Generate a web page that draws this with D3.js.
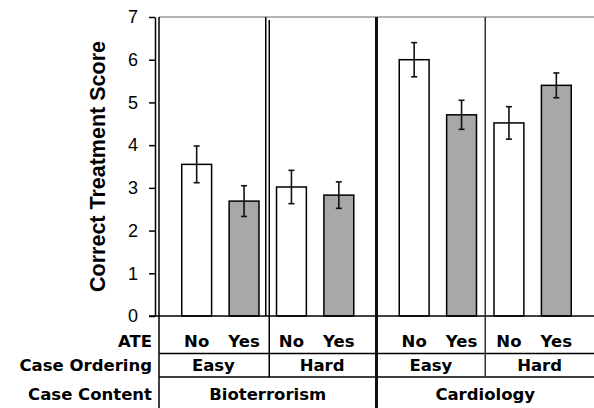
<!DOCTYPE html>
<html>
<head>
  <meta charset="utf-8">
  <script src="https://cdn.jsdelivr.net/npm/d3@7"></script>
  <title>Correct Treatment Score</title>
  <style>
    body { margin: 0; background: #fff; }
    .tbl { font-family: "DejaVu Sans", sans-serif; font-weight: bold; font-size: 16.5px; fill: #000; }
  </style>
</head>
<body>
<script>
var contents = ["Bioterrorism", "Cardiology"];
var orderings = ["Easy", "Hard"];
var ates = ["No", "Yes"];
// one value per bar, in order content > ordering > ATE
var means = [3.55, 2.69, 3.02, 2.83, 6.0, 4.71, 4.52, 5.40];
var errs = [0.43, 0.36, 0.39, 0.31, 0.40, 0.34, 0.38, 0.29];
var yTicks = [0, 1, 2, 3, 4, 5, 6, 7];

var W = 594, H = 408;
var plotL = 159, plotR = 594, plotT = 17, plotB = 316;
var row1 = 353.5, row2 = 377;

var bars = [];
var i = 0;
contents.forEach(function(c) {
  orderings.forEach(function(o) {
    ates.forEach(function(a) {
      bars.push({content: c, ordering: o, ate: a, key: o + "|" + a, mean: means[i], err: errs[i]});
      i++;
    });
  });
});

var svg = d3.select("body").append("svg")
  .attr("width", W)
  .attr("height", H);

var y = d3.scaleLinear().domain([0, 7]).range([plotB, plotT]);

var x0 = d3.scaleBand().domain(contents).range([plotL, plotR]);
var x1 = d3.scaleBand()
  .domain(bars.slice(0, 4).map(function(d) { return d.key; }))
  .range([0, x0.bandwidth()])
  .paddingInner(0.37)
  .paddingOuter(0.48);

function barX(d) { return x0(d.content) + x1(d.key); }
function barMid(d) { return barX(d) + x1.bandwidth() / 2; }

// frame lines
svg.append("line")
  .attr("x1", plotL).attr("x2", plotR).attr("y1", plotT).attr("y2", plotT)
  .style("stroke", "#9a9a9a").style("stroke-width", 1.5);

// bars
svg.selectAll(".bar")
  .data(bars)
  .enter()
  .append("rect")
  .attr("class", "bar")
  .attr("x", barX)
  .attr("y", function(d) { return y(d.mean); })
  .attr("width", x1.bandwidth())
  .attr("height", function(d) { return y(0) - y(d.mean); })
  .style("fill", function(d) { return d.ate === "Yes" ? "#a8a8a8" : "#fff"; })
  .style("stroke", "#000")
  .style("stroke-width", 1.5);

// error bars
var eb = svg.selectAll(".err")
  .data(bars)
  .enter()
  .append("g")
  .attr("class", "err")
  .style("stroke", "#111")
  .style("stroke-width", 1.6);
eb.append("line")
  .attr("x1", barMid).attr("x2", barMid)
  .attr("y1", function(d) { return y(d.mean + d.err); })
  .attr("y2", function(d) { return y(d.mean - d.err); });
eb.selectAll(".cap")
  .data(function(d) { return [d.mean + d.err, d.mean - d.err].map(function(v) { return {mid: barMid(d), v: v}; }); })
  .enter()
  .append("line")
  .attr("x1", function(c) { return c.mid - 3; })
  .attr("x2", function(c) { return c.mid + 3; })
  .attr("y1", function(c) { return y(c.v); })
  .attr("y2", function(c) { return y(c.v); });

// y axis
var yAxis = d3.axisLeft(y)
  .tickValues(yTicks)
  .tickFormat(d3.format("d"))
  .tickSize(6)
  .tickSizeOuter(0)
  .tickPadding(11);
var ga = svg.append("g")
  .attr("transform", "translate(155,0)")
  .call(yAxis);
ga.select(".domain").style("stroke", "#000").style("stroke-width", 1.5);
ga.selectAll(".tick line").style("stroke", "#000").style("stroke-width", 1.5);
ga.selectAll(".tick text")
  .style("font-family", "'Liberation Sans', Arial, sans-serif")
  .style("font-size", "18px")
  .style("fill", "#000");

svg.append("text")
  .attr("transform", "translate(104.5," + (plotT + plotB) / 2 + ") rotate(-90)")
  .attr("text-anchor", "middle")
  .style("font-family", "'Liberation Sans', Arial, sans-serif")
  .style("font-weight", "bold")
  .style("font-size", "21.5px")
  .text("Correct Treatment Score");

// baseline and table rows
svg.append("line")
  .attr("x1", 149).attr("x2", plotR).attr("y1", y(0)).attr("y2", y(0))
  .style("stroke", "#000").style("stroke-width", 1.5);
[row1, row2].forEach(function(ry) {
  svg.append("line")
    .attr("x1", plotL).attr("x2", plotR).attr("y1", ry).attr("y2", ry)
    .style("stroke", "#000").style("stroke-width", 1.5);
});

// vertical dividers
svg.append("line")
  .attr("x1", plotL).attr("x2", plotL).attr("y1", plotT).attr("y2", H)
  .style("stroke", "#000").style("stroke-width", 1.5);

contents.forEach(function(c, ci) {
  var mid = x0(c) + x0.bandwidth() / 2;
  if (ci === 0) {
    svg.append("line")
      .attr("x1", mid - 2).attr("x2", mid - 2).attr("y1", plotT).attr("y2", plotB)
      .style("stroke", "#000").style("stroke-width", 1.5);
    svg.append("line")
      .attr("x1", mid + 1.5).attr("x2", mid + 1.5).attr("y1", plotT + 3).attr("y2", row2)
      .style("stroke", "#000").style("stroke-width", 1.5);
  } else {
    svg.append("line")
      .attr("x1", mid).attr("x2", mid).attr("y1", plotT).attr("y2", row2)
      .style("stroke", "#333").style("stroke-width", 1.5);
  }
  if (ci > 0) {
    svg.append("line")
      .attr("x1", x0(c)).attr("x2", x0(c)).attr("y1", plotT).attr("y2", H)
      .style("stroke", "#111").style("stroke-width", 3);
  }
});

// table labels
var labels = [["ATE", 347], ["Case Ordering", 371], ["Case Content", 400]];
svg.selectAll(".rowlab")
  .data(labels)
  .enter()
  .append("text")
  .attr("class", "tbl")
  .attr("x", 152)
  .attr("y", function(d) { return d[1]; })
  .attr("text-anchor", "end")
  .text(function(d) { return d[0]; });

svg.selectAll(".atelab")
  .data(bars)
  .enter()
  .append("text")
  .attr("class", "tbl")
  .attr("x", barMid)
  .attr("y", labels[0][1])
  .attr("text-anchor", "middle")
  .text(function(d) { return d.ate; });

contents.forEach(function(c) {
  orderings.forEach(function(o, oi) {
    svg.append("text")
      .attr("class", "tbl")
      .attr("x", x0(c) + x0.bandwidth() * (oi + 0.5) / 2)
      .attr("y", labels[1][1])
      .attr("text-anchor", "middle")
      .text(o);
  });
  svg.append("text")
    .attr("class", "tbl")
    .attr("x", x0(c) + x0.bandwidth() / 2)
    .attr("y", labels[2][1])
    .attr("text-anchor", "middle")
    .text(c);
});
</script>
</body>
</html>
